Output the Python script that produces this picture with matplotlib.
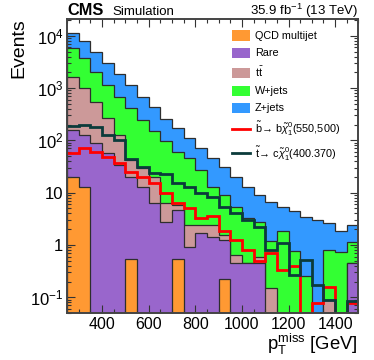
import numpy as np
import matplotlib
matplotlib.use('Agg')
import matplotlib.pyplot as plt
from matplotlib.patches import Patch
from matplotlib.lines import Line2D
from matplotlib.ticker import FixedLocator, FixedFormatter, MultipleLocator, LogLocator, NullFormatter

plt.rcParams['font.family'] = ['Liberation Sans', 'DejaVu Sans']
plt.rcParams['mathtext.fontset'] = 'custom'
plt.rcParams['mathtext.rm'] = 'Liberation Sans'
plt.rcParams['mathtext.it'] = 'Liberation Sans:italic'
plt.rcParams['mathtext.bf'] = 'Liberation Sans:bold'
plt.rcParams['mathtext.sf'] = 'Liberation Sans'

# ---------------- data ----------------
bin_edges = [250, 300, 350, 400, 450, 500, 550, 600, 650, 700, 750, 800, 850,
             900, 950, 1000, 1050, 1100, 1150, 1200, 1250, 1300, 1350, 1400, 1450, 1500]

qcd = [19.6, 13.0, 0, 0, 0, 0.54, 0, 0, 0, 0.54, 0, 0, 0, 0.22, 0,
       0, 0, 0, 0, 0, 0, 0, 0, 0, 0]
rare = [138, 113, 87.6, 56.4, 33.8, 19.7, 13.0, 6.25, 2.79, 4.13, 0.93, 1.67, 1.44,
        1.03, 0.45, 0.45, 0.45, 0, 0, 0, 0, 0, 0, 0, 0.45]
ttbar = [1441, 859, 460, 207, 92.6, 21.9, 16.2, 13.9, 3.46, 1.14, 1.48, 0.74, 0.97,
         0.30, 0.18, 0, 0.15, 0.149, 0, 0, 0, 0, 0.089, 0, 0]
wjets = [4129, 2703, 1504, 878, 557, 367, 216, 131, 92.2, 54.9, 42.9, 24.7, 10.6,
         7.48, 4.78, 2.78, 2.19, 1.06, 1.88, 0.78, 0.25, 0, 0.71, 0.72, 0.71]
zjets = [5352, 4337, 2895, 1819, 1168, 732, 438, 276, 154, 109, 63.9, 45.3, 32.3,
         22.4, 14.8, 9.8, 6.24, 5.52, 3.52, 3.75, 3.23, 3.00, 1.87, 1.13, 1.25]

sig_sbottom = [56.5, 70, 60.7, 48.7, 36.4, 25.2, 19.6, 15.1, 10, 6.25, 5.0, 3.33, 3.58,
               1.88, 1.25, 0.80, 0.50, 0.69, 0.33, 0.40, 0, 0.079, 0.16, 0, 0.079]
sig_stop = [188, 196, 177, 126, 101, 45, 31, 23.4, 22.7, 15.1, 13, 9.7, 8.4,
            5.4, 4.0, 3.0, 2.24, 0.80, 1.08, 0.27, 0.52, 0.17, 0.089, 0, 0.085]

bkg_labels = ['QCD multijet', 'Rare', r'$\mathrm{t\bar{t}}$', 'W+jets', 'Z+jets']
sig_labels = [r'$\tilde{\mathrm{b}}\!\rightarrow\,\mathrm{b}\tilde{\chi}_{1}^{0}$(550,500)',
              r'$\tilde{\mathrm{t}}\!\rightarrow\,\mathrm{c}\tilde{\chi}_{1}^{0}$(400.370)']

xticks = [400, 600, 800, 1000, 1200, 1400]
yticks = [0.1, 1, 10, 100, 1000, 10000]
ytick_labels = [r'$10^{-1}$', '1', '10', r'$10^{2}$', r'$10^{3}$', r'$10^{4}$']

# ---------------- style ----------------
bkg_colors = ['#FF9933', '#9966CC', '#CC9999', '#33FF33', '#3399FF']
sig_colors = ['#FF0000', '#0B3B3B']
edge_col = '#2e2e2e'
ymin, ymax = 0.05, 2.1e4
floor = 1e-4

fig = plt.figure(figsize=(3.74, 3.60), dpi=100)
ax = fig.add_axes([0.179, 0.1306, 0.7795, 0.8167])

edges = np.array(bin_edges, dtype=float)
stack = np.cumsum(np.array([qcd, rare, ttbar, wjets, zjets], dtype=float), axis=0)

# draw cumulative histograms from the top of the stack downwards (ROOT THStack style)
for i in range(len(stack) - 1, -1, -1):
    ax.stairs(np.maximum(stack[i], floor), edges, baseline=floor, fill=True,
              facecolor=bkg_colors[i], edgecolor=edge_col, linewidth=0.9, zorder=1 + (5 - i) * 0.01)

for vals, col, z in [(sig_sbottom, sig_colors[0], 3), (sig_stop, sig_colors[1], 3.1)]:
    ax.stairs(np.maximum(np.array(vals, dtype=float), ymin), edges, baseline=None,
              color=col, linewidth=2.0, zorder=z)

ax.set_yscale('log')
ax.set_xlim(edges[0], edges[-1])
ax.set_ylim(ymin, ymax)

ax.yaxis.set_major_locator(FixedLocator(yticks))
ax.yaxis.set_major_formatter(FixedFormatter(ytick_labels))
ax.yaxis.set_minor_locator(LogLocator(base=10, subs=np.arange(2, 10), numticks=20))
ax.yaxis.set_minor_formatter(NullFormatter())
ax.xaxis.set_major_locator(FixedLocator(xticks))
ax.xaxis.set_minor_locator(MultipleLocator(50))

ax.tick_params(which='both', direction='in', top=True, right=True, color='#333333', width=0.8)
ax.tick_params(which='major', length=5.5)
ax.tick_params(which='minor', length=3.0)
ax.tick_params(axis='x', which='major', labelsize=11.5, pad=2.6)
ax.tick_params(axis='y', which='major', labelsize=12, pad=2.5)

for s in ax.spines.values():
    s.set_color('#444444')
    s.set_linewidth(1.4)
    s.set_zorder(5)

# legend
handles = [Patch(facecolor=c, edgecolor='none') for c in bkg_colors]
handles += [Line2D([], [], color=c, linewidth=2.0) for c in sig_colors]
leg = fig.legend(handles, bkg_labels + sig_labels, loc='upper left',
                 bbox_to_anchor=(231.5 / 374, 1 - 30.5 / 360), frameon=False,
                 fontsize=7.8, handlelength=1.75, handleheight=1.05, handletextpad=0.4,
                 labelspacing=0.6, borderpad=0, borderaxespad=0)

# header and labels
fig.text(67 / 374, 1 - 15 / 360, 'CMS', fontsize=11.8, fontweight='bold', ha='left', va='baseline')
fig.text(112.5 / 374, 1 - 15 / 360, 'Simulation', fontsize=9.5, ha='left', va='baseline')
fig.text(358 / 374, 1 - 15 / 360, r'35.9 fb$^{-1}$ (13 TeV)', fontsize=9.5, ha='right', va='baseline')
fig.text(19 / 374, 1 - 18 / 360, 'Events', fontsize=14, rotation=90, ha='center', va='top')
fig.text(358 / 374, 1 - 350 / 360, r'p$_{\mathrm{T}}^{\mathrm{miss}}$ [GeV]', fontsize=13.3,
         ha='right', va='baseline')

fig.savefig('out.png', dpi=100)
